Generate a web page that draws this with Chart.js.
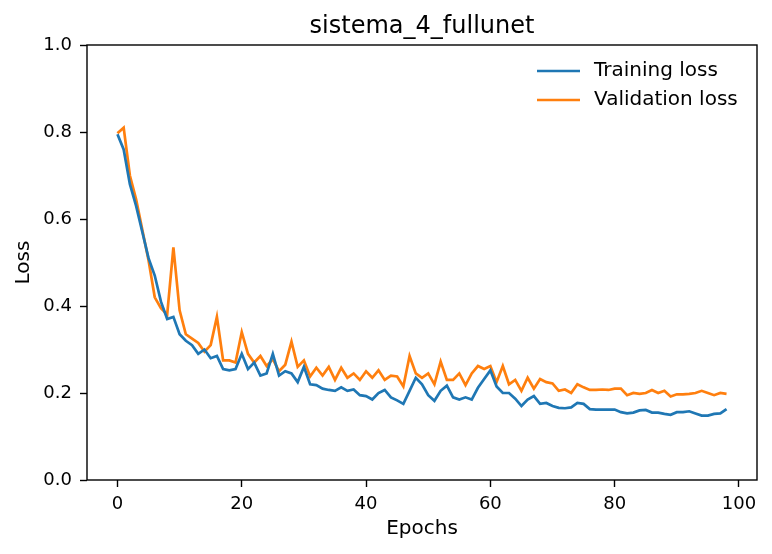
<!DOCTYPE html>
<html>
<head>
<meta charset="utf-8">
<script src="https://cdn.jsdelivr.net/npm/chart.js@4/dist/chart.umd.min.js"></script>
<style>
  html, body { margin: 0; padding: 0; background: #fff; }
  #wrap { width: 772px; height: 554px; }
</style>
</head>
<body>
<div id="wrap"><canvas id="grafico" width="772" height="554"></canvas></div>
<script>
/* ---------- Dados ---------- */
const chartTitle = 'sistema_4_fullunet';
const epochs = Array.from({ length: 99 }, (_, i) => i);
const trainingLoss = [
  0.795, 0.760, 0.680, 0.630, 0.570, 0.510, 0.470, 0.410, 0.370, 0.375,
  0.335, 0.320, 0.310, 0.290, 0.300, 0.280, 0.285, 0.255, 0.252, 0.255,
  0.290, 0.255, 0.270, 0.240, 0.245, 0.290, 0.240, 0.250, 0.245, 0.225,
  0.260, 0.220, 0.218, 0.210, 0.207, 0.205, 0.213, 0.205, 0.208, 0.195,
  0.193, 0.185, 0.200, 0.207, 0.190, 0.183, 0.175, 0.205, 0.235, 0.220,
  0.195, 0.182, 0.205, 0.217, 0.190, 0.185, 0.190, 0.185, 0.212, 0.232,
  0.252, 0.215, 0.200, 0.200, 0.187, 0.170, 0.185, 0.193, 0.175, 0.177,
  0.170, 0.166, 0.165, 0.167, 0.177, 0.175, 0.163, 0.162, 0.162, 0.162,
  0.162, 0.156, 0.153, 0.155, 0.160, 0.161, 0.155, 0.155, 0.152, 0.150,
  0.156, 0.156, 0.158, 0.153, 0.148, 0.148, 0.152, 0.153, 0.163
];
const validationLoss = [
  0.797, 0.810, 0.700, 0.645, 0.575, 0.505, 0.420, 0.395, 0.380, 0.535,
  0.390, 0.335, 0.325, 0.315, 0.295, 0.310, 0.375, 0.275, 0.275, 0.270,
  0.340, 0.290, 0.270, 0.285, 0.262, 0.278, 0.250, 0.265, 0.318, 0.260,
  0.275, 0.238, 0.258, 0.240, 0.260, 0.230, 0.258, 0.235, 0.245, 0.230,
  0.250, 0.235, 0.252, 0.230, 0.240, 0.238, 0.215, 0.285, 0.245, 0.235,
  0.245, 0.220, 0.272, 0.230, 0.230, 0.245, 0.218, 0.245, 0.262, 0.255,
  0.262, 0.225, 0.262, 0.220, 0.230, 0.205, 0.235, 0.210, 0.232, 0.225,
  0.222, 0.205, 0.208, 0.200, 0.220, 0.213, 0.207, 0.207, 0.208, 0.207,
  0.210, 0.210, 0.195, 0.200, 0.198, 0.200, 0.207, 0.200, 0.205, 0.192,
  0.197, 0.197, 0.198, 0.200, 0.205, 0.200, 0.195, 0.200, 0.198
];
const xTicks = [0, 20, 40, 60, 80, 100];
const yTicks = [0.0, 0.2, 0.4, 0.6, 0.8, 1.0];

/* ---------- Estilo ---------- */
const fonte = '"DejaVu Sans", sans-serif';
const azul = '#1f77b4';
const laranja = '#ff7f0e';
const espessura = 2.7;

/* ---------- Plugins ---------- */
// moldura dos quatro lados + título centrado na área do gráfico
const molduraPlugin = {
  id: 'moldura',
  afterDraw(chart) {
    const { ctx, chartArea: a } = chart;
    ctx.save();
    ctx.strokeStyle = '#000';
    ctx.lineWidth = 1.4;
    ctx.strokeRect(a.left, a.top, a.right - a.left, a.bottom - a.top);
    ctx.fillStyle = '#000';
    ctx.font = '24px ' + fonte;
    ctx.textAlign = 'center';
    ctx.textBaseline = 'alphabetic';
    ctx.fillText(chartTitle, (a.left + a.right) / 2, 33);
    ctx.restore();
  }
};

// legenda dentro do gráfico, canto superior direito
const legendaPlugin = {
  id: 'legendaInterna',
  afterDraw(chart) {
    const { ctx, chartArea: a } = chart;
    ctx.save();
    ctx.font = '20px ' + fonte;
    ctx.textBaseline = 'middle';
    ctx.textAlign = 'left';
    chart.data.datasets.forEach((ds, i) => {
      const y = a.top + 26 + i * 29;
      const x0 = a.right - 220;
      ctx.strokeStyle = ds.borderColor;
      ctx.lineWidth = espessura;
      ctx.beginPath();
      ctx.moveTo(x0, y);
      ctx.lineTo(x0 + 43, y);
      ctx.stroke();
      ctx.fillStyle = '#000';
      ctx.fillText(ds.label, x0 + 57, y);
    });
    ctx.restore();
  }
};

/* ---------- Gráfico ---------- */
const ctx = document.getElementById('grafico').getContext('2d');
const grafico = new Chart(ctx, {
  type: 'line',
  data: {
    labels: epochs,
    datasets: [
      { label: 'Training loss', data: trainingLoss, borderColor: azul, backgroundColor: azul, borderWidth: espessura, pointRadius: 0, tension: 0 },
      { label: 'Validation loss', data: validationLoss, borderColor: laranja, backgroundColor: laranja, borderWidth: espessura, pointRadius: 0, tension: 0 }
    ]
  },
  options: {
    responsive: false,
    animation: false,
    devicePixelRatio: 1,
    layout: { padding: { top: 45, right: 15, left: 12, bottom: 13 } },
    plugins: {
      legend: { display: false },
      title: { display: false },
      tooltip: { enabled: false }
    },
    scales: {
      x: {
        type: 'linear',
        min: -4.9,
        max: 102.9,
        afterBuildTicks: s => { s.ticks = xTicks.map(v => ({ value: v })); },
        afterFit: s => { s.height = 61; },
        grid: { drawOnChartArea: false, drawTicks: true, tickLength: 7, color: '#000', tickWidth: 1.4 },
        border: { display: false },
        ticks: { color: '#000', font: { family: fonte, size: 18 }, padding: 7, maxRotation: 0, autoSkip: false },
        title: { display: true, text: 'Epochs', color: '#000', font: { family: fonte, size: 20 }, padding: { top: 0, bottom: 0 } }
      },
      y: {
        min: 0,
        max: 1,
        afterBuildTicks: s => { s.ticks = yTicks.map(v => ({ value: v })); },
        afterFit: s => { s.width = 75; },
        grid: { drawOnChartArea: false, drawTicks: true, tickLength: 7, color: '#000', tickWidth: 1.4 },
        border: { display: false },
        ticks: { color: '#000', font: { family: fonte, size: 18 }, padding: 8, callback: v => v.toFixed(1) },
        title: { display: true, text: 'Loss', color: '#000', font: { family: fonte, size: 20 }, padding: { top: 0, bottom: 0 } }
      }
    }
  },
  plugins: [molduraPlugin, legendaPlugin]
});
</script>
</body>
</html>
